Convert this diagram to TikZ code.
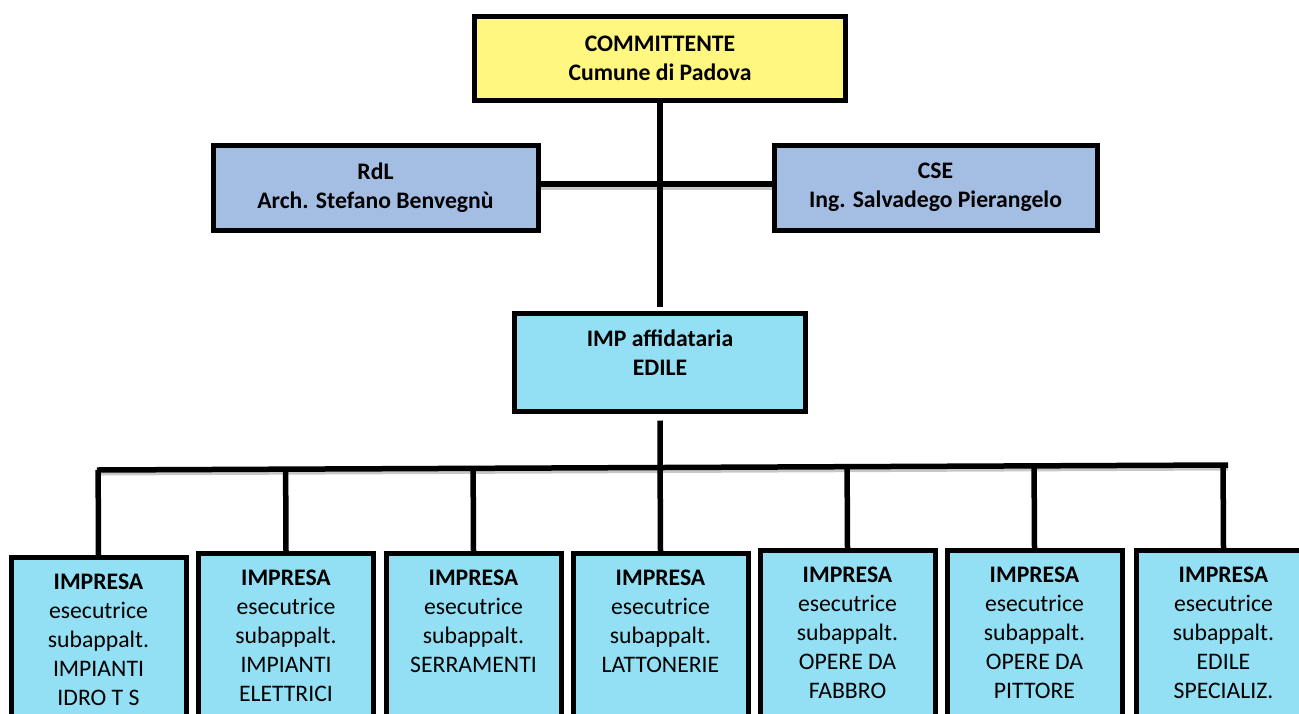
\documentclass[tikz,border=0pt]{standalone}
\usepackage{fontspec}
\setmainfont{Carlito}
\usetikzlibrary{calc}
\definecolor{giallo}{RGB}{255,247,128}
\definecolor{azzurro}{RGB}{164,189,226}
\definecolor{ciano}{RGB}{147,223,243}
\newcommand{\testoimpresa}[1]{\parbox[t][200pt][t]{175pt}{\centering\textbf{IMPRESA}\\esecutrice\\subappalt.\\#1}}

\begin{document}
\begin{tikzpicture}[x=1pt,y=-1pt,
    ente/.style={draw=black, line width=5pt, align=center, inner sep=0pt, font=\fontsize{23.7}{29}\selectfont\bfseries},
    impresa/.style={draw=black, line width=5pt, fill=ciano, anchor=north, inner xsep=0pt, inner ysep=16.5pt, font=\fontsize{23.7}{29}\selectfont},
    linea/.style={line width=5.5pt, black},
    ombra/.style={linea, preaction={draw=black!22, line width=5pt, transform canvas={yshift=-3pt}}}]
      \clip (0,0) rectangle (1299,713);

      \node[ente, fill=giallo, minimum width=371pt, minimum height=84pt] (comm) at (660,58) {COMMITTENTE\\Cumune di Padova};
      \node[ente, fill=azzurro, minimum width=325pt, minimum height=85pt] (rdl) at (375.5,187.5) {RdL\\Arch. Stefano Benvegnù};
      \node[ente, fill=azzurro, minimum width=323pt, minimum height=85pt] (cse) at (935.5,187.5) {CSE\\Ing. Salvadego Pierangelo};
      \node[ente, fill=ciano, minimum width=291pt, minimum height=98pt, text depth=18pt] (imp) at (660,362) {IMP affidataria\\EDILE};

      \node[impresa] (b1) at (98.5,555) {\testoimpresa{IMPIANTI\\IDRO T S}};
      \node[impresa] (b2) at (286,551) {\testoimpresa{IMPIANTI\\ELETTRICI}};
      \node[impresa] (b3) at (473.5,551) {\testoimpresa{SERRAMENTI}};
      \node[impresa] (b4) at (660.5,551) {\testoimpresa{LATTONERIE}};
      \node[impresa] (b5) at (847.5,548) {\testoimpresa{OPERE DA\\FABBRO}};
      \node[impresa] (b6) at (1034.5,548) {\testoimpresa{OPERE DA\\PITTORE}};
      \node[impresa] (b7) at (1223.5,548) {\testoimpresa{EDILE\\SPECIALIZ.}};

      \draw[ombra] ([yshift=3.5pt]rdl.east) -- ([yshift=3.5pt]cse.west);
      \draw[linea, shorten >=4pt] (comm.south) -- (imp.north);

      \coordinate (sx) at (97,470);
      \coordinate (dx) at (1228,465);
      \draw[linea, shorten <=7pt] (imp.south) -- ($(sx)!(imp.south)!(dx)$);
      \draw[ombra] (sx) -- (dx);
      \foreach \i in {1,...,7}
        \draw[linea] ($(sx)!(b\i.north)!(dx)$) -- (b\i.north);
\end{tikzpicture}
\end{document}
